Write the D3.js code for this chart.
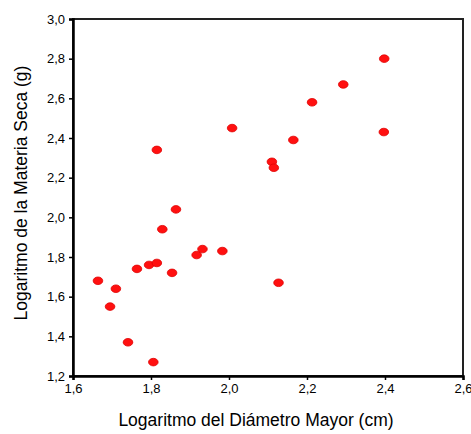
<!DOCTYPE html>
<html>
<head>
<meta charset="utf-8">
<script src="https://cdnjs.cloudflare.com/ajax/libs/d3/7.8.5/d3.min.js"></script>
<style>
  body { margin: 0; background: #fff; }
  text { font-family: Arial, "Liberation Sans", sans-serif; fill: #000; }
</style>
</head>
<body>
<svg id="chart" width="471" height="434"></svg>
<script>
// diametro mayor (log cm) vs materia seca (log g)
const diametro = [1.664, 1.695, 1.710, 1.741, 1.764, 1.795, 1.815, 1.806, 1.815, 1.829,
  1.864, 1.854, 1.917, 1.932, 1.983, 2.008, 2.110, 2.115, 2.165, 2.127, 2.213, 2.293, 2.398, 2.397];
const materia = [1.68, 1.55, 1.64, 1.37, 1.74, 1.76, 1.77, 1.27, 2.34, 1.94,
  2.04, 1.72, 1.81, 1.84, 1.83, 2.45, 2.28, 2.25, 2.39, 1.67, 2.58, 2.67, 2.80, 2.43];
const xTicks = [1.6, 1.8, 2.0, 2.2, 2.4, 2.6];
const yTicks = [1.2, 1.4, 1.6, 1.8, 2.0, 2.2, 2.4, 2.6, 2.8, 3.0];

const svg = d3.select('#chart');
const m = { left: 73, right: 463, top: 19, bottom: 376 };

const x = d3.scaleLinear().domain([1.6, 2.6]).range([m.left, m.right]);
const y = d3.scaleLinear().domain([1.2, 3.0]).range([m.bottom, m.top]);
const fmt = (d) => d.toFixed(1).replace('.', ',');

// frame
svg.append('rect')
  .attr('x', m.left).attr('y', m.top)
  .attr('width', m.right - m.left).attr('height', m.bottom - m.top)
  .attr('fill', 'none').attr('stroke', '#222').attr('stroke-width', 2);

let xAxis = svg.append('g')
  .attr('transform', `translate(0,${m.bottom})`)
  .call(d3.axisBottom(x).tickValues(xTicks).tickFormat(fmt).tickSize(4).tickPadding(4));
let yAxis = svg.append('g')
  .attr('transform', `translate(${m.left},0)`)
  .call(d3.axisLeft(y).tickValues(yTicks).tickFormat(fmt).tickSize(4).tickPadding(4));

[xAxis, yAxis].forEach((a) => {
  a.select('.domain').attr('stroke', '#000').attr('stroke-width', 2.5);
  a.selectAll('.tick line').attr('stroke', '#000').attr('stroke-width', 1.5);
  a.selectAll('.tick text')
    .style('font-size', '13px')
    .style('font-family', 'Arial, "Liberation Sans", sans-serif')
    .attr('fill', '#000');
});

// points
svg.append('g')
  .selectAll('ellipse')
  .data(diametro)
  .join('ellipse')
  .attr('cx', (d) => x(d))
  .attr('cy', (d, i) => y(materia[i]))
  .attr('rx', 4.8)
  .attr('ry', 3.8)
  .attr('fill', '#ff1010')
  .attr('stroke', '#e00000')
  .attr('stroke-width', 0.8);

// axis titles
svg.append('text')
  .attr('x', 256).attr('y', 426)
  .attr('text-anchor', 'middle')
  .style('font-size', '17.5px')
  .text('Logaritmo del Diámetro Mayor (cm)');

svg.append('text')
  .attr('transform', 'translate(27,193) rotate(-90)')
  .attr('text-anchor', 'middle')
  .style('font-size', '17.5px')
  .text('Logaritmo de la Materia Seca (g)');
</script>
</body>
</html>
